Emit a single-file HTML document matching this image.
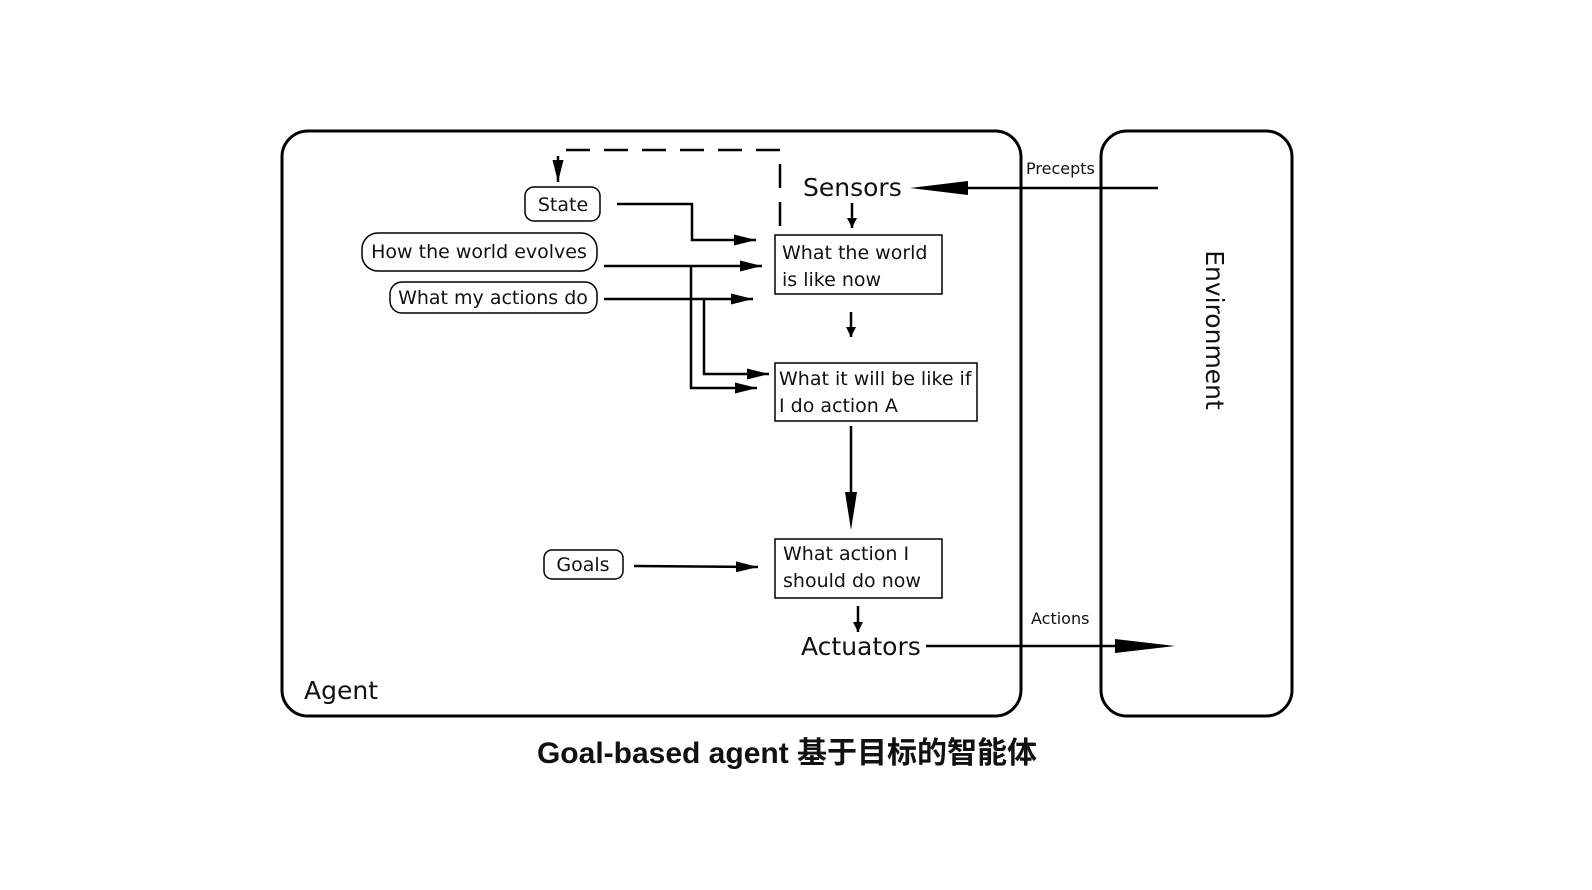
<!DOCTYPE html>
<html><head><meta charset="utf-8"><style>
html,body{margin:0;padding:0;background:#fff;}
svg{display:block;}
text{font-family:"DejaVu Sans","Liberation Sans",sans-serif;fill:#111;}
</style></head><body>
<svg width="1592" height="890" viewBox="0 0 1592 890" xmlns="http://www.w3.org/2000/svg">
<defs>
<marker id="a" viewBox="0 0 10 10" refX="10" refY="5" markerWidth="10" markerHeight="10" markerUnits="userSpaceOnUse" orient="auto"><path d="M0,0L10,5L0,10z" fill="#000"/></marker>
<marker id="b" viewBox="0 0 20 10" refX="20" refY="5" markerWidth="22" markerHeight="12" markerUnits="userSpaceOnUse" orient="auto"><path d="M0,0L20,5L0,10z" fill="#000"/></marker>
</defs>
<rect x="282" y="131" width="739" height="585" rx="26" fill="none" stroke="#000" stroke-width="3"/>
<rect x="1101" y="131" width="191" height="585" rx="26" fill="none" stroke="#000" stroke-width="3"/>
<g fill="none" stroke="#000" stroke-width="2.5">
<path d="M780,226V150H558V166" stroke-dasharray="24,14"/>
<path d="M558,160V182" marker-end="url(#b)"/>
<path d="M617,204H692V240H756" marker-end="url(#b)"/>
<path d="M604,266H762" marker-end="url(#b)"/>
<path d="M604,299H753" marker-end="url(#b)"/>
<path d="M691,266V388H757" marker-end="url(#b)"/>
<path d="M704,299V374H769" marker-end="url(#b)"/>
<path d="M852,203V228" marker-end="url(#a)"/>
<path d="M851,312V337" marker-end="url(#a)"/>
<path d="M634,566L758,567" marker-end="url(#b)"/>
<path d="M858,606V632" marker-end="url(#a)"/>
<path d="M851,426V492"/>
<path d="M1158,188H968"/>
<path d="M926,646H1120"/>
</g>
<path d="M845,492L857,492L851,530z" fill="#000"/>
<path d="M968,181L968,195L910,188z" fill="#000"/>
<path d="M1115,639L1115,653L1175,646z" fill="#000"/>
<g fill="#fff" stroke="#000" stroke-width="1.5">
<rect x="525" y="187" width="75" height="34" rx="9"/>
<rect x="362" y="233" width="235" height="38" rx="16"/>
<rect x="390" y="282" width="207" height="31" rx="12"/>
<rect x="544" y="550" width="79" height="29" rx="8"/>
<rect x="775" y="235" width="167" height="59"/>
<rect x="775" y="363" width="202" height="58"/>
<rect x="775" y="539" width="167" height="59"/>
</g>
<g font-size="19">
<text x="563" y="211" text-anchor="middle">State</text>
<text x="479" y="258" text-anchor="middle">How the world evolves</text>
<text x="493" y="304" text-anchor="middle">What my actions do</text>
<text x="583" y="571" text-anchor="middle">Goals</text>
<text x="782" y="259">What the world</text>
<text x="782" y="286">is like now</text>
<text x="779" y="385">What it will be like if</text>
<text x="779" y="412">I do action A</text>
<text x="783" y="560">What action I</text>
<text x="783" y="587">should do now</text>
</g>
<text x="803" y="196" font-size="25">Sensors</text>
<text x="801" y="655" font-size="25">Actuators</text>
<text x="304" y="699" font-size="25">Agent</text>
<text x="1026" y="174" font-size="16">Precepts</text>
<text x="1031" y="624" font-size="16">Actions</text>
<text transform="translate(1206,330) rotate(90)" font-size="25" text-anchor="middle">Environment</text>
<text x="787" y="763" font-size="30" font-weight="bold" text-anchor="middle" style="font-family:'Liberation Sans','Noto Sans CJK SC',sans-serif">Goal-based agent 基于目标的智能体</text>
</svg>
</body></html>
